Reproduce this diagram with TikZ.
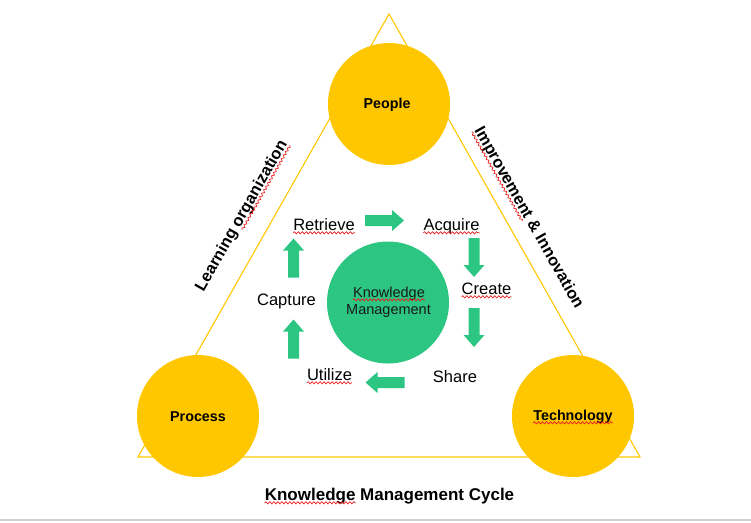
\documentclass[tikz,border=0pt]{standalone}
\usepackage{fontspec}
\setmainfont{Liberation Sans}
\usetikzlibrary{calc,decorations.pathmorphing}
\definecolor{kmyellow}{RGB}{255,199,0}
\definecolor{kmgreen}{RGB}{44,198,130}
\definecolor{kmred}{RGB}{235,30,30}
\definecolor{kmgray}{RGB}{208,208,208}
\newcommand\squigline[2]{\draw[squig] ($(#1)!2.8pt!-90:(#2)$) -- ($(#2)!2.8pt!90:(#1)$);}
\newcommand\blockarrow[4]{%
  \fill[kmgreen, shift={(#2,#3)}, rotate=#4] (-19.5,-5.5) -- (7.5,-5.5) -- (7.5,-10.5) -- (19.5,0) -- (7.5,10.5) -- (7.5,5.5) -- (-19.5,5.5) -- cycle;
  \coordinate (#1) at (#2,#3);}
\begin{document}
\begin{tikzpicture}[x=1pt,y=-1pt,
  bigcirc/.style={circle, fill=kmyellow, minimum size=122pt, inner sep=0pt},
  kmcirc/.style={circle, fill=kmgreen, minimum size=122pt, inner sep=0pt},
  steplbl/.style={inner sep=0pt, anchor=base, font=\fontsize{16.5}{19}\selectfont, text=black},
  circlbl/.style={inner sep=0pt, anchor=base, font=\fontsize{14.3}{17}\selectfont\bfseries, text=black},
  kmlbl/.style={inner sep=0pt, anchor=base, font=\fontsize{14.5}{17}\selectfont, text=black!90},
  sidelbl/.style={inner sep=0pt, font=\fontsize{16.3}{19}\selectfont\bfseries, text=black},
  squig/.style={draw=kmred, line width=0.7pt, decorate, decoration={snake, amplitude=1.1pt, segment length=4pt}},
  triline/.style={draw=kmyellow, line width=1.1pt, line join=miter}]
\useasboundingbox (0,0) rectangle (751,522);
% triangle
\coordinate (apex) at (389,14);
\coordinate (bl) at (138,457);
\coordinate (br) at (640,457);
\draw[triline] (apex) -- (bl) -- (br) -- cycle;
% bottom gray line
\coordinate (gl) at (0,520);
\coordinate (gr) at (751,520);
\draw[kmgray, line width=1.6pt] (gl) -- (gr);
% circles
\node[bigcirc] (people) at (389,104) {};
\node[bigcirc] (process) at (198,416) {};
\node[bigcirc] (tech) at (573,416) {};
\node[kmcirc] (km) at (388,302.5) {};
% circle labels
\node[circlbl] (peopleT) at (387,108) {People};
\node[circlbl] (processT) at (198,421) {Process};
\node[circlbl] (techT) at (573,420) {Technology};
\squigline{techT.base west}{techT.base east}
\node[kmlbl] (km1) at (389,297) {Knowledge};
\node[kmlbl] (km2) at (388.5,314) {Management};
\squigline{km1.base west}{km1.base east}
% step labels
\node[steplbl] (ret) at (324,230) {Retrieve};
\node[steplbl] (acq) at (451.5,230) {Acquire};
\node[steplbl] (cre) at (486.5,294) {Create};
\node[steplbl] (sha) at (455,382) {Share};
\node[steplbl] (uti) at (329.5,380) {Utilize};
\node[steplbl] (cap) at (286.5,305) {Capture};
\squigline{ret.base west}{ret.base east}
\squigline{acq.base west}{acq.base east}
\squigline{cre.base west}{cre.base east}
\squigline{uti.base west}{uti.base east}
% block arrows
\blockarrow{a1}{384.5}{220.5}{0}
\blockarrow{a2}{474}{257.5}{-90}
\blockarrow{a3}{474}{327.5}{-90}
\blockarrow{a4}{385}{382.5}{180}
\blockarrow{a5}{293.5}{339}{90}
\blockarrow{a6}{293.5}{258}{90}
% side labels
\node[sidelbl, rotate=60.5] (lo) at (242,216) {Learning organization};
\coordinate (lo1) at ($(lo.base west)!0.431!(lo.base east)$);
\squigline{lo1}{lo.base east}
\node[sidelbl, rotate=-60.5] (ii) at (528.5,218) {Improvement \& Innovation};
\coordinate (ii1) at ($(ii.base west)!0.498!(ii.base east)$);
\squigline{ii.base west}{ii1}
% title
\node[inner sep=0pt, anchor=base, font=\fontsize{17}{20}\selectfont\bfseries] (title) at (389.5,500) {Knowledge Management Cycle};
\coordinate (t1) at ($(title.base west)!0.364!(title.base east)$);
\squigline{title.base west}{t1}
\end{tikzpicture}
\end{document}
